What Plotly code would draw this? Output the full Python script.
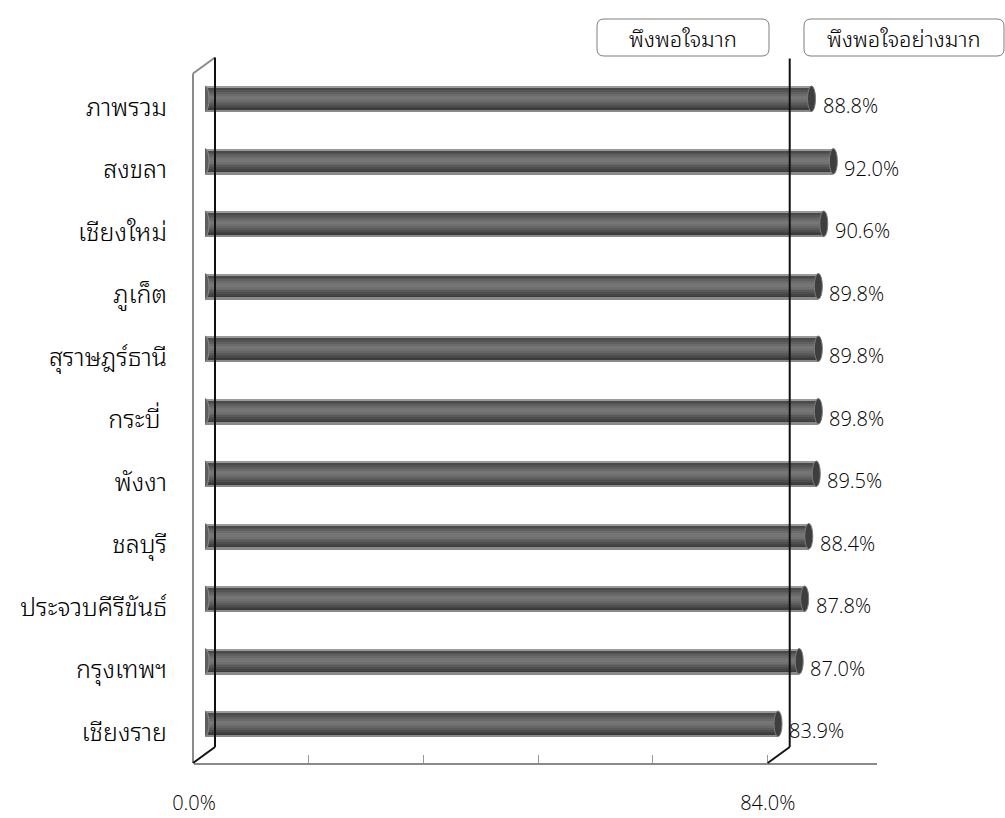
import plotly.graph_objects as go

# Satisfaction share by province (top to bottom)
categories = ["ภาพรวม", "สงขลา", "เชียงใหม่", "ภูเก็ต", "สุราษฎร์ธานี", "กระบี่\u00a0",
              "พังงา", "ชลบุรี", "ประจวบคีรีขันธ์", "กรุงเทพฯ", "เชียงราย"]
values = [88.8, 92.0, 90.6, 89.8, 89.8, 89.8, 89.5, 88.4, 87.8, 87.0, 83.9]
tick_vals = [0, 16.8, 33.6, 50.4, 67.2, 84.0]
tick_text = ["0.0%", "", "", "", "", "84.0%"]
threshold = 84.0
legend_labels = ["พึงพอใจมาก", "พึงพอใจอย่างมาก"]

W, H = 1005, 818
THAI = "Noto Sans Thai Looped, Noto Sans Thai, Open Sans, sans-serif"
NUM = "Open Sans, Noto Sans, sans-serif"

# front plane of the pseudo-3D box (pixels)
X0, X100 = 194, 877
FLOOR = 763
STEP = 62.5
n = len(categories)
TOP = FLOOR - STEP * n
DX, DY = 22, 16          # depth of the box
BX, BY = DX / 2, DY / 2  # bars sit mid-depth

def xp(px):
    return px / W

def yp(py):
    return 1 - py / H

def front_x(v):
    return X0 + v / 100 * (X100 - X0)

fig = go.Figure()

# invisible trace that carries the category axis labels on the front plane
fig.add_trace(go.Scatter(x=[0] * n, y=categories, mode="markers",
                         marker=dict(opacity=0), hoverinfo="skip",
                         showlegend=False, xaxis="x", yaxis="y"))

# cylinder body: nested stripes, each running from its top edge to the bar bottom
stripe_colors = ["#9a9a9a", "#4a4a4a", "#545454", "#606060", "#6b6b6b", "#747474",
                 "#767676", "#707070", "#666666", "#5a5a5a", "#4e4e4e", "#444444",
                 "#3c3c3c", "#8a8a8a"]
half = 0.205
k = len(stripe_colors)
sw = 2 * half / k
for i, col in enumerate(stripe_colors):
    fig.add_trace(go.Bar(x=values, y=categories, orientation="h",
                         offset=-half + i * sw, width=2 * half - i * sw,
                         marker=dict(color=col, line=dict(width=0)),
                         hoverinfo="skip", showlegend=False,
                         xaxis="x2", yaxis="y2"))

# rounded ends of each cylinder
rx = 4 / (X100 - X0) * 100
shapes = []
for i, v in enumerate(values):
    shapes.append(dict(type="circle", xref="x2", yref="y2",
                       x0=-rx, x1=rx, y0=i - half, y1=i + half,
                       fillcolor="#5e5e5e", line=dict(color="#8a8a8a", width=1),
                       layer="above"))
    shapes.append(dict(type="circle", xref="x2", yref="y2",
                       x0=v - rx, x1=v + rx, y0=i - half, y1=i + half,
                       fillcolor="#3e3e3e", line=dict(color="#7a7a7a", width=1),
                       layer="above"))

# value labels
annotations = []
for c, v in zip(categories, values):
    annotations.append(dict(x=v, y=c, xref="x2", yref="y2", text=f"{v:.1f}%",
                            showarrow=False, xanchor="left", xshift=9, yshift=-7,
                            font=dict(family=NUM, size=20, color="#000", weight=300)))

# box walls
lx, bx = X0 - 1, X0 - 1 + DX
wall = [
    ((lx, FLOOR), (lx, TOP - 2), "#8a8a8a"),
    ((lx, TOP - 2), (bx, TOP - 2 - DY), "#8a8a8a"),
    ((bx, TOP - 2 - DY), (bx, FLOOR - DY), "#111"),
    ((lx, FLOOR), (bx, FLOOR - DY), "#111"),
]
tx = front_x(threshold)
wall += [
    ((tx + DX, TOP - 1 - DY), (tx + DX, FLOOR - DY), "#111"),
    ((tx, FLOOR), (tx + DX, FLOOR - DY), "#111"),
]
for (x0, y0), (x1, y1), col in wall:
    shapes.append(dict(type="line", xref="paper", yref="paper",
                       x0=xp(x0), y0=yp(y0), x1=xp(x1), y1=yp(y1),
                       line=dict(color=col, width=2), layer="above"))

# legend boxes with rounded corners
def rounded_box(x0, y0, x1, y1, r=7):
    pts = (f"M {xp(x0 + r)},{yp(y0)} L {xp(x1 - r)},{yp(y0)} "
           f"Q {xp(x1)},{yp(y0)} {xp(x1)},{yp(y0 + r)} "
           f"L {xp(x1)},{yp(y1 - r)} Q {xp(x1)},{yp(y1)} {xp(x1 - r)},{yp(y1)} "
           f"L {xp(x0 + r)},{yp(y1)} Q {xp(x0)},{yp(y1)} {xp(x0)},{yp(y1 - r)} "
           f"L {xp(x0)},{yp(y0 + r)} Q {xp(x0)},{yp(y0)} {xp(x0 + r)},{yp(y0)} Z")
    return dict(type="path", xref="paper", yref="paper", path=pts,
                line=dict(color="#7f7f7f", width=1), fillcolor="white")

boxes = [(597, 19, 769, 56), (804, 19, 1004, 56)]
for (x0, y0, x1, y1), label in zip(boxes, legend_labels):
    shapes.append(rounded_box(x0, y0, x1, y1))
    annotations.append(dict(x=xp((x0 + x1) / 2), y=yp((y0 + y1) / 2),
                            xref="paper", yref="paper", text=label,
                            showarrow=False, xanchor="center", yanchor="middle",
                            font=dict(family=THAI, size=22, color="#000", weight=300)))

fig.update_layout(
    width=W, height=H,
    margin=dict(l=0, r=0, t=0, b=0, autoexpand=False),
    paper_bgcolor="white", plot_bgcolor="rgba(0,0,0,0)",
    barmode="overlay", bargap=0,
    font=dict(family=THAI, color="#000"),
    xaxis=dict(domain=[xp(X0), xp(X100)], range=[0, 100], anchor="y",
               automargin=False,
               showgrid=False, zeroline=False, showline=True,
               linecolor="#8a8a8a", linewidth=2,
               tickmode="array", tickvals=tick_vals, ticktext=tick_text,
               ticks="inside", ticklen=8, tickcolor="#9a9a9a", tickwidth=1,
               ticklabelstandoff=21,
               tickfont=dict(family=NUM, size=20, color="#000", weight=300)),
    yaxis=dict(domain=[yp(FLOOR), yp(TOP)], anchor="x", automargin=False,
               type="category", categoryarray=categories,
               range=[n - 0.5, -0.5], showgrid=False, zeroline=False,
               showline=False, ticks="", ticklabelstandoff=26,
               tickfont=dict(family=THAI, size=25, color="#000", weight=300)),
    xaxis2=dict(domain=[xp(X0 + BX), xp(X100 + BX)], range=[0, 100], anchor="y2",
                visible=False, automargin=False),
    yaxis2=dict(domain=[yp(FLOOR - BY), yp(TOP - BY)], anchor="x2",
                type="category", categoryarray=categories, automargin=False,
                range=[n - 0.5, -0.5], visible=False),
    shapes=shapes,
    annotations=annotations,
)

fig.write_html("out.html")
